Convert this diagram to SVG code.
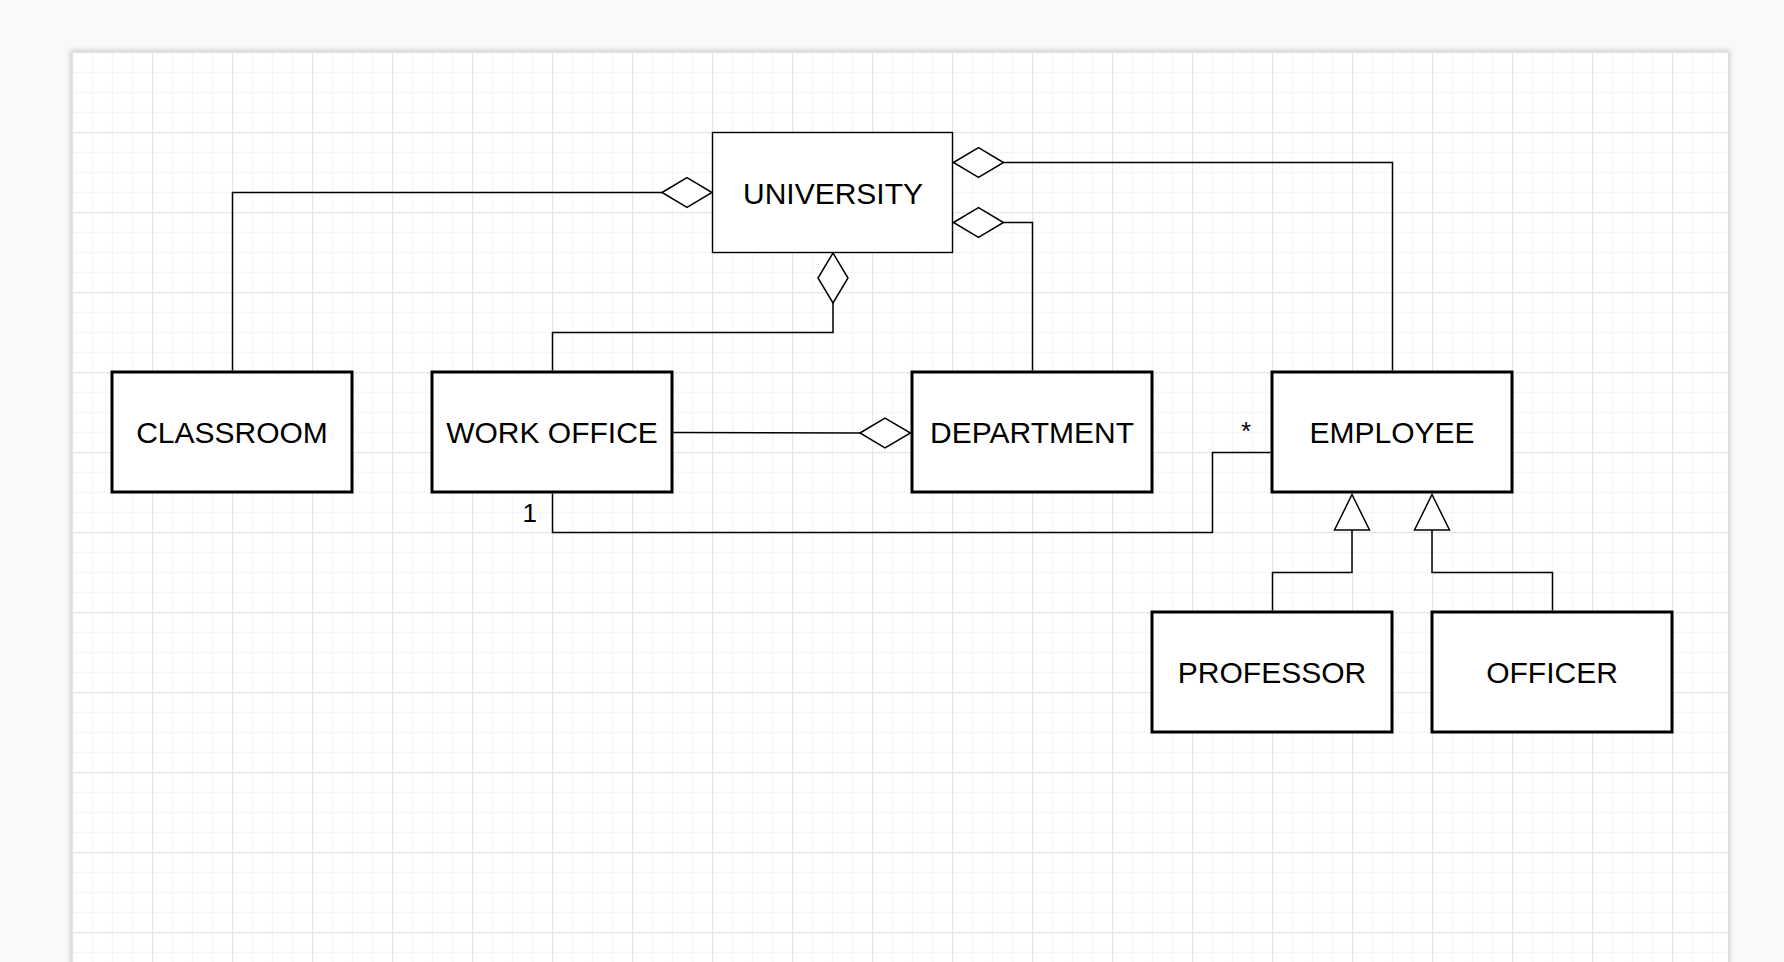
<svg xmlns="http://www.w3.org/2000/svg" width="1784" height="962" viewBox="0 0 1784 962">
  <defs>
    <pattern id="grid" patternUnits="userSpaceOnUse" x="72" y="52" width="80" height="80">
      <path d="M20.5 0V80M40.5 0V80M60.5 0V80M0 20.5H80M0 40.5H80M0 60.5H80" stroke="#f5f5f5" stroke-width="1.5" fill="none"/>
      <path d="M0.5 0V80M0 0.5H80" stroke="#e6e6e6" stroke-width="1.5" fill="none"/>
    </pattern>
    <filter id="shadow" x="-5%" y="-5%" width="110%" height="110%">
      <feGaussianBlur stdDeviation="2.5"/>
    </filter>
    <style>
      .node { fill: #ffffff; stroke: #000000; stroke-width: 3; }
      .thin { fill: #ffffff; stroke: #000000; stroke-width: 1.4; }
      .label { font-family: "Liberation Sans", Arial, Helvetica, sans-serif; font-size: 30px; fill: #000000; text-anchor: middle; }
      .mult { font-family: "Liberation Sans", Arial, Helvetica, sans-serif; font-size: 26px; fill: #000000; }
      .edge { fill: none; stroke: #000000; stroke-width: 1.5; }
      .head { fill: #ffffff; stroke: #000000; stroke-width: 1.5; stroke-linejoin: miter; }
    </style>
  </defs>

  <rect x="0" y="0" width="1784" height="962" fill="#f8f9fa"/>
  <rect x="70" y="50" width="1660" height="940" fill="#d0d0d0" filter="url(#shadow)"/>
  <rect x="72" y="52" width="1656" height="930" fill="#ffffff"/>
  <rect x="72" y="52" width="1656" height="930" fill="url(#grid)"/>

  <g id="connectors">
    <path class="edge" d="M232.5 370.5V192.5H662"/>
    <polygon class="head" points="662,192.5 687,177.5 712,192.5 687,207.5"/>

    <path class="edge" d="M552.5 370.5V332.5H833V303"/>
    <polygon class="head" points="833,253 848,278 833,303 818,278"/>

    <path class="edge" d="M1003.5 162.5H1392.5V370.5"/>
    <polygon class="head" points="953.5,162.5 978.5,147.5 1003.5,162.5 978.5,177.5"/>

    <path class="edge" d="M1003.5 222.5H1032.5V370.5"/>
    <polygon class="head" points="953.5,222.5 978.5,207.5 1003.5,222.5 978.5,237.5"/>

    <path class="edge" d="M673.5 432.5L860 433"/>
    <polygon class="head" points="860,433 885,418 910.5,433 885,448"/>

    <path class="edge" d="M552.5 493.5V532.5H1212.5V452.5H1270.5"/>
    <text class="mult" x="537" y="522" text-anchor="end">1</text>
    <text class="mult" x="1246" y="440" text-anchor="middle">*</text>

    <path class="edge" d="M1272.5 610.5V572.5H1352V530"/>
    <polygon class="head" points="1352,494.5 1369.5,530 1334.5,530"/>

    <path class="edge" d="M1552.5 610.5V572.5H1432V530"/>
    <polygon class="head" points="1432,494.5 1449.5,530 1414.5,530"/>
  </g>

  <g id="university">
    <rect class="thin" x="712.5" y="132.5" width="240" height="120"/>
    <text class="label" x="833" y="203.5">UNIVERSITY</text>
  </g>
  <g id="classroom">
    <rect class="node" x="112" y="372" width="240" height="120"/>
    <text class="label" x="232" y="443">CLASSROOM</text>
  </g>
  <g id="work-office">
    <rect class="node" x="432" y="372" width="240" height="120"/>
    <text class="label" x="552" y="443">WORK OFFICE</text>
  </g>
  <g id="department">
    <rect class="node" x="912" y="372" width="240" height="120"/>
    <text class="label" x="1032" y="443">DEPARTMENT</text>
  </g>
  <g id="employee">
    <rect class="node" x="1272" y="372" width="240" height="120"/>
    <text class="label" x="1392" y="443">EMPLOYEE</text>
  </g>
  <g id="professor">
    <rect class="node" x="1152" y="612" width="240" height="120"/>
    <text class="label" x="1272" y="683">PROFESSOR</text>
  </g>
  <g id="officer">
    <rect class="node" x="1432" y="612" width="240" height="120"/>
    <text class="label" x="1552" y="683">OFFICER</text>
  </g>
</svg>
